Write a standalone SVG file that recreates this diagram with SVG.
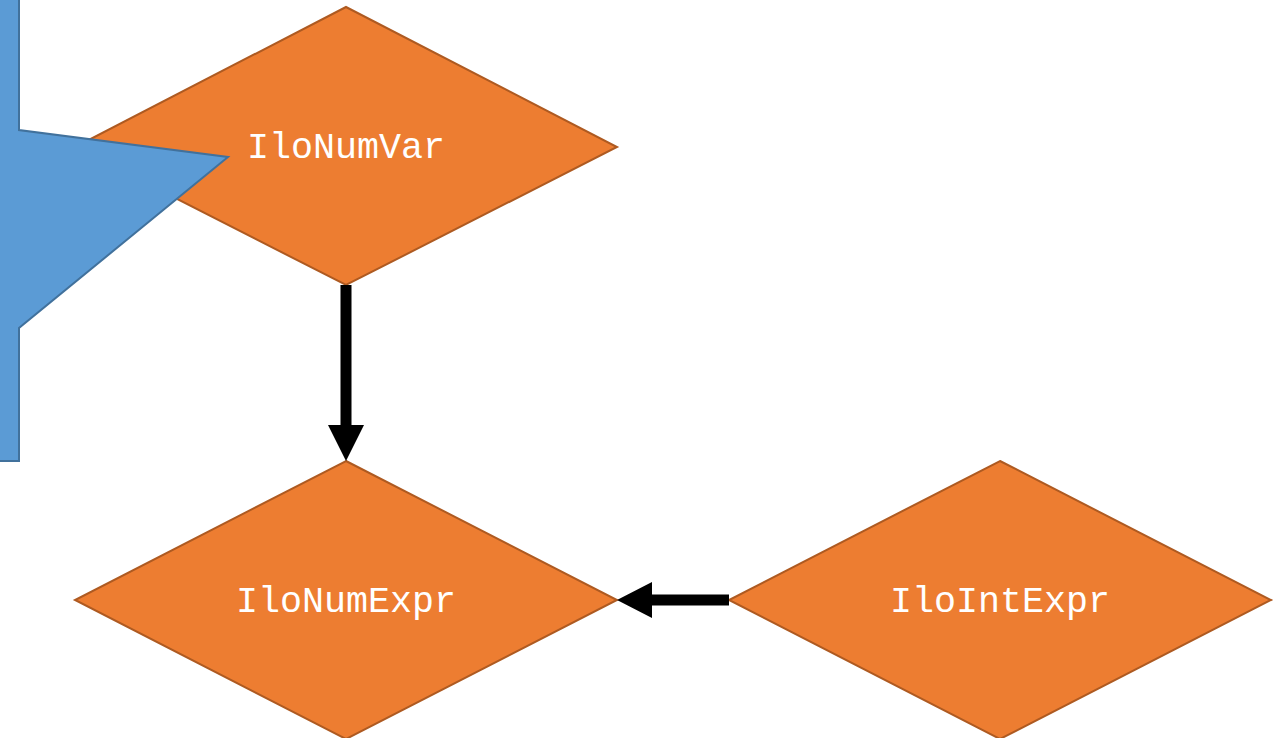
<svg xmlns="http://www.w3.org/2000/svg" width="1284" height="738" viewBox="0 0 1284 738">
<defs>
<style>
.d{fill:#ed7d31;stroke:#ae5a21;stroke-width:2}
.t{font-family:"Liberation Mono","Courier New",monospace;font-size:36.7px;fill:#ffffff;text-anchor:middle}
.c{fill:#5b9bd5;stroke:#41719c;stroke-width:2}
</style>
</defs>
<g id="IloNumVar">
<polygon class="d" points="346,7 617,147 346,285 75,147"/>
<text class="t" x="346" y="158">IloNumVar</text>
</g>
<g id="IloNumExpr">
<polygon class="d" points="346,461 617,600 346,739 75,600"/>
<text class="t" x="346" y="612">IloNumExpr</text>
</g>
<g id="IloIntExpr">
<polygon class="d" points="1000,461 1271,600 1000,739 729,600"/>
<text class="t" x="1000" y="612">IloIntExpr</text>
</g>
<g id="callout">
<polygon class="c" points="-2,-2 19,-2 19,130 228,157 19,328 19,461 -2,461"/>
</g>
<g id="connectors">
<polygon fill="#000" points="340.5,285 351.5,285 351.5,425 364,425 346,461 328,425 340.5,425"/>
<polygon fill="#000" points="729,594.5 729,605.5 652,605.5 652,618 617,600 652,582 652,594.5"/>
</g>
</svg>
